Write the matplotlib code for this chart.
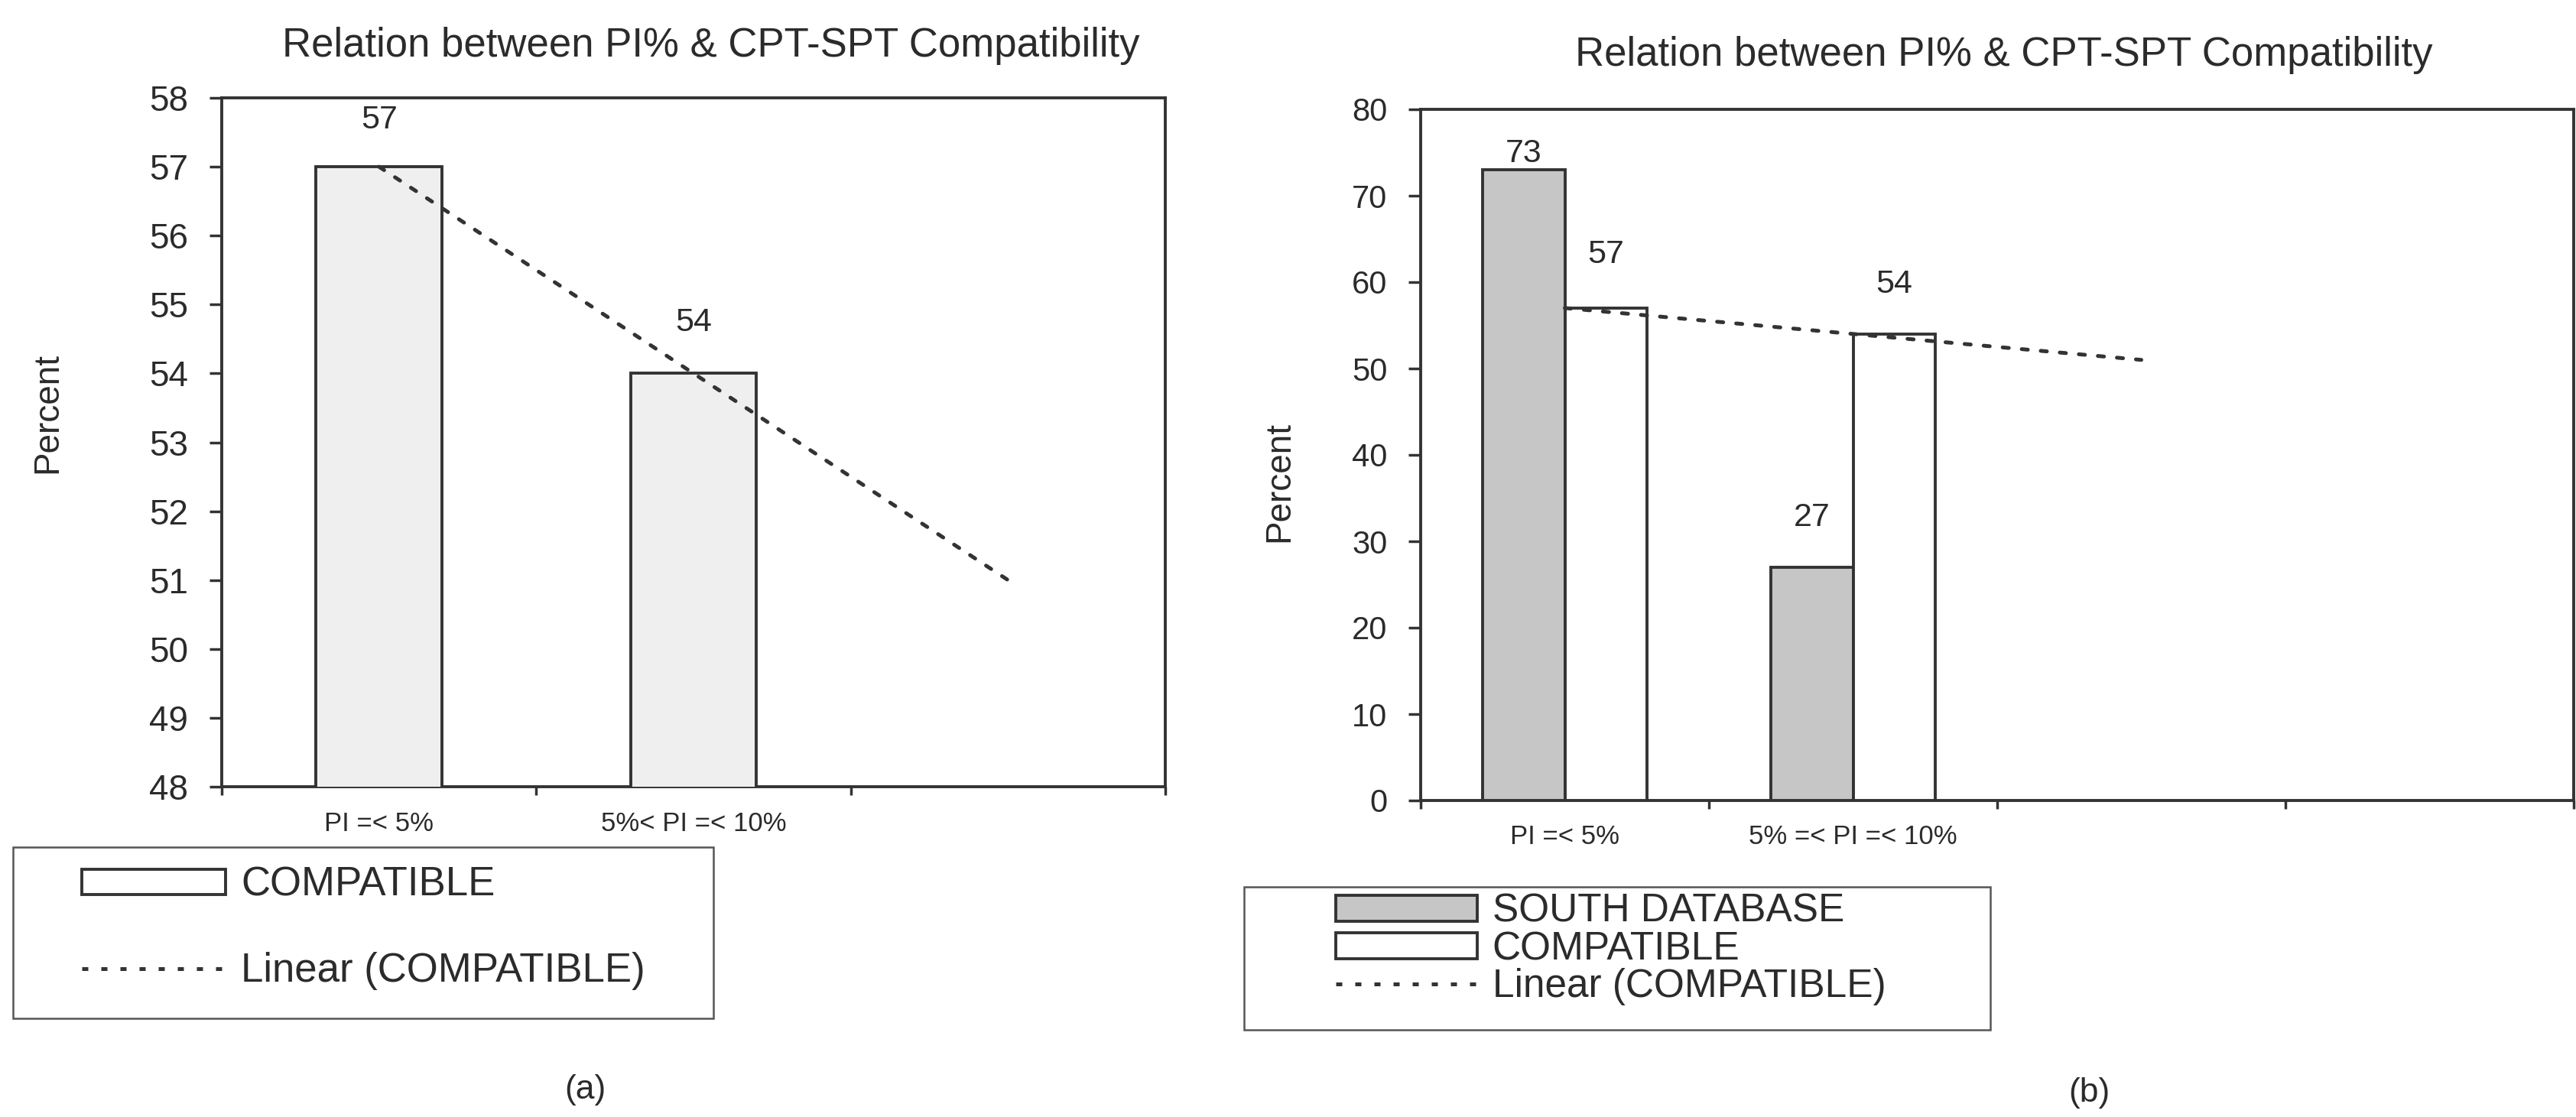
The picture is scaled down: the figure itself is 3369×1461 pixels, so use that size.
import matplotlib
matplotlib.use('Agg')
import matplotlib.pyplot as plt
import numpy as np
from matplotlib.patches import Rectangle, Patch
from matplotlib.lines import Line2D

plt.rcParams['font.family'] = ['Liberation Sans', 'DejaVu Sans']

# ---------------- data ----------------
title = "Relation between PI% & CPT-SPT Compatibility"
cats_a = ['PI =< 5%', '5%< PI =< 10%', '']
compat_a = [57, 54]
cats_b = ['PI =< 5%', '5% =< PI =< 10%', '', '']
south_b = [73, 27]
compat_b = [57, 54]
yticks_a = list(range(48, 59))
yticks_b = list(range(0, 81, 10))
forecast_forward = 1

# ---------------- style ----------------
W, H, DPI = 3369, 1461, 100
EDGE = '#333333'
TXT = '#2b2b2b'
DOTS = (0, (1.6, 3.4))

fig = plt.figure(figsize=(W / DPI, H / DPI), dpi=DPI)
fig.patch.set_facecolor('white')


def px(x0, y0, x1, y1):
    return [x0 / W, 1 - y1 / H, (x1 - x0) / W, (y1 - y0) / H]


ax1 = fig.add_axes(px(290, 128, 1524, 1029))
ax2 = fig.add_axes(px(1858, 143, 3366, 1047))


def style(ax, ylim, yticks, cats, fs_y, xpad):
    ax.set_xlim(-0.5, len(cats) - 0.5)
    ax.set_ylim(*ylim)
    ax.set_yticks(yticks)
    ax.set_yticklabels([str(v) for v in yticks], fontsize=fs_y, color=TXT)
    ax.set_xticks(np.arange(len(cats)))
    ax.set_xticklabels(cats, fontsize=25, color=TXT)
    ax.set_xticks(np.arange(len(cats) + 1) - 0.5, minor=True)
    ax.tick_params(axis='x', which='major', length=0, pad=xpad)
    ax.tick_params(axis='x', which='minor', length=8, width=2.5,
                   direction='out', color=EDGE)
    ax.tick_params(axis='y', length=11.5, width=2.5, pad=20,
                   direction='out', color=EDGE)
    for s in ax.spines.values():
        s.set_linewidth(2.8)
        s.set_color(EDGE)


def trend(ax, vals):
    x = np.arange(len(vals))
    coef = np.polyfit(x, vals, 1)
    xt = np.array([0, len(vals) - 1 + forecast_forward])
    ax.plot(xt, np.polyval(coef, xt), linestyle=DOTS, lw=3.6,
            color=EDGE, zorder=5, dash_capstyle='round')


def label(ax, x, v, off):
    ax.annotate(str(v), (x, v), xytext=(0, off), textcoords='offset points',
                ha='center', va='center', fontsize=31, color=TXT)


# ---------------- chart (a) ----------------
style(ax1, (48, 58), yticks_a, cats_a, 33, 23)
xa = np.arange(len(compat_a))
ax1.bar(xa, compat_a, width=0.4, color='#efefef', edgecolor=EDGE,
        linewidth=2.8, zorder=3)
trend(ax1, compat_a)
for x, v, off in zip(xa, compat_a, [44, 48]):
    label(ax1, x, v, off)
ax1.set_title(title, fontsize=38, color=TXT, x=(930 - 290) / 1234,
              y=(1029 - 60) / 901, va='center', pad=0)

# ---------------- chart (b) ----------------
style(ax2, (0, 80), yticks_b, cats_b, 30, 22)
xb = np.arange(len(south_b))
bw = 0.284
ax2.bar(xb - bw / 2, south_b, width=bw, color='#c6c6c6', edgecolor=EDGE,
        linewidth=2.8, zorder=3)
ax2.bar(xb + bw / 2, compat_b, width=bw, color='white', edgecolor=EDGE,
        linewidth=2.8, zorder=3)
trend(ax2, compat_b)
for x, v, off in zip(xb - bw / 2, south_b, [15, 47]):
    label(ax2, x, v, off)
for x, v, off in zip(xb + bw / 2, compat_b, [50, 47]):
    label(ax2, x, v, off)
ax2.set_title(title, fontsize=38, color=TXT, x=(2621 - 1858) / 1508,
              y=(1047 - 72) / 904, va='center', pad=0)

# y labels
fig.text(62 / W, 1 - 540 / H, 'Percent', rotation=90, ha='center',
         va='center', fontsize=33, color=TXT)
fig.text(1673 / W, 1 - 630 / H, 'Percent', rotation=90, ha='center',
         va='center', fontsize=33, color=TXT)

# ---------------- legends ----------------
h_compat = Patch(facecolor='white', edgecolor=EDGE, linewidth=2.8)
h_south = Patch(facecolor='#c6c6c6', edgecolor=EDGE, linewidth=2.8)
h_lin = Line2D([], [], linestyle=DOTS, lw=3.6, color=EDGE)

fig.patches.append(Rectangle((17 / W, 1 - 1332 / H), (933 - 17) / W,
                             (1332 - 1108) / H, transform=fig.transFigure,
                             facecolor='none', edgecolor='#555555', lw=1.8))
fig.legend([h_compat, h_lin], ['COMPATIBLE', 'Linear (COMPATIBLE)'],
           loc='upper left', bbox_to_anchor=(107 / W, 1 - 1133 / H),
           frameon=False, borderpad=0, borderaxespad=0, fontsize=38,
           handlelength=3.57, handleheight=0.6, handletextpad=0.38,
           labelspacing=1.18, labelcolor=TXT)

fig.patches.append(Rectangle((1627 / W, 1 - 1347 / H), (2603 - 1627) / W,
                             (1347 - 1160) / H, transform=fig.transFigure,
                             facecolor='none', edgecolor='#555555', lw=1.8))
fig.legend([h_south, h_compat, h_lin],
           ['SOUTH DATABASE', 'COMPATIBLE', 'Linear (COMPATIBLE)'],
           loc='upper left', bbox_to_anchor=(1747 / W, 1 - 1168 / H),
           frameon=False, borderpad=0, borderaxespad=0, fontsize=37,
           handlelength=3.6, handleheight=0.62, handletextpad=0.38,
           labelspacing=0.0, labelcolor=TXT)

# captions
fig.text(765 / W, 1 - 1425 / H, '(a)', ha='center', va='center',
         fontsize=32, color=TXT)
fig.text(2732 / W, 1 - 1430 / H, '(b)', ha='center', va='center',
         fontsize=32, color=TXT)

fig.savefig('out.png', dpi=DPI, facecolor='white')
